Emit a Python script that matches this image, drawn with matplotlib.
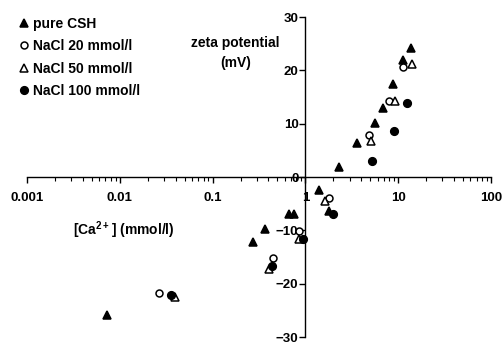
import matplotlib
matplotlib.use('Agg')
import matplotlib.pyplot as plt
from matplotlib.ticker import LogLocator, FixedLocator, NullFormatter

plt.rcParams.update({
    'font.family': ['Liberation Sans', 'DejaVu Sans'],
    'font.size': 9.5,
    'font.weight': 'bold',
    'mathtext.fontset': 'custom',
    'mathtext.rm': 'Liberation Sans:bold',
    'mathtext.bf': 'Liberation Sans:bold',
    'mathtext.default': 'bf',
})

# Zeta potential (mV) against calcium concentration (mmol/l)
csh_ca = [0.0073, 0.27, 0.37, 0.67, 0.75, 1.39, 1.8, 2.28, 3.6, 5.66, 6.78, 8.83, 11.2, 13.7]
csh_zeta = [-25.9, -12.1, -9.7, -6.9, -6.9, -2.4, -6.3, 1.8, 6.4, 10.1, 12.9, 17.5, 22.0, 24.2]

nacl20_ca = [0.0263, 0.453, 0.86, 1.78, 4.9, 8.0, 11.4]
nacl20_zeta = [-21.7, -15.1, -10.1, -3.9, 7.9, 14.2, 20.6]

nacl50_ca = [0.039, 0.41, 0.86, 1.62, 5.1, 9.3, 14.0]
nacl50_zeta = [-22.5, -17.2, -11.6, -4.5, 6.8, 14.3, 21.2]

nacl100_ca = [0.036, 0.44, 0.95, 1.97, 5.2, 9.06, 12.5]
nacl100_zeta = [-22.2, -16.6, -11.6, -7.0, 3.0, 8.6, 13.9]

series = [
    ('pure CSH', csh_ca, csh_zeta, '^', 'black', 6),
    ('NaCl 20 mmol/l', nacl20_ca, nacl20_zeta, 'o', 'white', 5),
    ('NaCl 50 mmol/l', nacl50_ca, nacl50_zeta, '^', 'white', 6),
    ('NaCl 100 mmol/l', nacl100_ca, nacl100_zeta, 'o', 'black', 5.5),
]

fig = plt.figure(figsize=(5.03, 3.47), dpi=100)
ax = fig.add_axes([27 / 503, 1 - 337 / 347, (491 - 27) / 503, (337 - 17) / 347])

for label, xs, ys, marker, face, size in series:
    ax.plot(xs, ys, linestyle='none', marker=marker, markersize=size,
            markerfacecolor=face, markeredgecolor='black', markeredgewidth=1.1,
            label=label)

ax.set_xscale('log')
ax.set_xlim(0.001, 100)
ax.set_ylim(-30, 30)

# axes cross at the origin: y axis at [Ca] = 1, x axis at zeta = 0
ax.spines['left'].set_position(('data', 1))
ax.spines['bottom'].set_position(('data', 0))
ax.spines['top'].set_visible(False)
ax.spines['right'].set_visible(False)
for sp in ('left', 'bottom'):
    ax.spines[sp].set_linewidth(1.0)

ax.xaxis.set_minor_locator(LogLocator(base=10, subs=range(2, 10), numticks=20))
ax.xaxis.set_minor_formatter(NullFormatter())
ax.set_xticks([0.001, 0.01, 0.1, 1, 10, 100])
ax.set_xticklabels(['0.001', '0.01', '0.1', '1', '10', '100'])
ax.yaxis.set_major_locator(FixedLocator([-30, -20, -10, 0, 10, 20, 30]))

ax.tick_params(axis='x', which='major', direction='out', length=4, width=1, pad=7)
ax.tick_params(axis='x', which='minor', direction='out', length=3, width=0.8)
ax.tick_params(axis='y', which='major', direction='out', length=4, width=1, pad=1)

ax.text(0.011, -10, '[Ca$^{2+}$] (mmol/l)', ha='center', va='center',
        fontsize=10, fontweight='bold')
ax.text(0.177, 23.3, 'zeta potential\n(mV)', ha='center', va='center',
        fontsize=10, fontweight='bold', linespacing=1.55)

ax.legend(loc='upper left', bbox_to_anchor=(19 / 503, 1 - 17 / 347),
          bbox_transform=fig.transFigure, frameon=False, handlelength=0.7,
          handletextpad=0.3, labelspacing=0.6, borderpad=0, borderaxespad=0,
          prop={'weight': 'bold', 'size': 10})

fig.savefig('out.png', dpi=100)
